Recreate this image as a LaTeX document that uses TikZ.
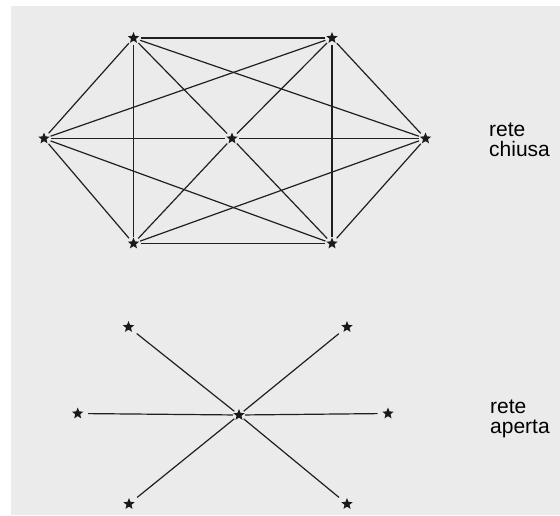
\documentclass[tikz,border=0pt]{standalone}
\usepackage{fontspec}
\setmainfont{Liberation Sans}
\usetikzlibrary{shapes.geometric}
\tikzset{
  stella/.style={star, star points=5, star point ratio=2.3, fill=black!90, draw=none, inner sep=0pt, minimum size=12pt},
  linea/.style={line width=1.2pt, black!88, shorten <=7pt, shorten >=7pt},
  raggio/.style={line width=1.2pt, black!88, shorten <=6pt, shorten >=10.5pt},
  etichetta/.style={align=left, anchor=base west, inner sep=0pt, font=\fontsize{21}{19.5}\selectfont}
}

\begin{document}
\begin{tikzpicture}[x=1pt,y=-1pt]
  \fill[white] (0,0) rectangle (560,515);
  \fill[black!8] (11,6) rectangle (560,515);
  \useasboundingbox (0,0) rectangle (560,515);

  % rete chiusa
  \node[stella] (tl) at (133.5,38) {};
  \node[stella] (tr) at (332,38) {};
  \node[stella] (l) at (44,138.5) {};
  \node[stella] (c) at (232,138.5) {};
  \node[stella] (r) at (425.5,138.5) {};
  \node[stella] (bl) at (133.5,243.5) {};
  \node[stella] (br) at (332,243.5) {};

  \foreach \a/\b in {tl/tr, tl/bl, tr/br, bl/br, l/tl, l/bl, r/tr, r/br,
                     l/tr, l/br, r/tl, r/bl, l/c, c/r, tl/c, c/br, tr/c, c/bl}
    \draw[linea] (\a.center) -- (\b.center);

  \node[etichetta] (chiusa) at (489,156) {rete\\chiusa};

  % rete aperta
  \node[stella] (c2) at (239,415) {};
  \node[stella] (ul) at (128.5,327) {};
  \node[stella] (ur) at (347,327) {};
  \node[stella] (l2) at (77.7,413.5) {};
  \node[stella] (r2) at (388,413.5) {};
  \node[stella] (dl) at (129,504) {};
  \node[stella] (dr) at (347,504) {};

  \foreach \b in {ul, ur, l2, r2, dl, dr}
    \draw[raggio] (c2.center) -- (\b.center);

  \node[etichetta] (aperta) at (490,433) {rete\\aperta};
\end{tikzpicture}
\end{document}
